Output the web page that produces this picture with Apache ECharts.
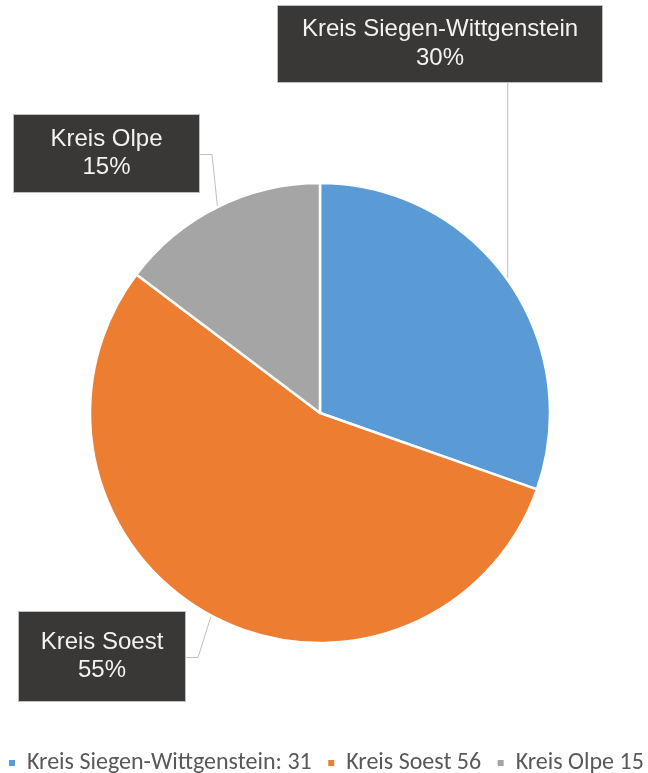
<!DOCTYPE html>
<html><head><meta charset="utf-8">
<script src="https://cdn.jsdelivr.net/npm/echarts@6/dist/echarts.min.js"></script>
<style>html,body{margin:0;padding:0;background:#fff}#c{width:648px;height:773px}</style>
</head><body><div id="c"></div>
<script>
const categories = ['Kreis Siegen-Wittgenstein', 'Kreis Soest', 'Kreis Olpe'];
const values = [31, 56, 15];
const percentLabels = ['30%', '55%', '15%'];
const legendLabels = ['Kreis Siegen-Wittgenstein: 31', 'Kreis Soest 56', 'Kreis Olpe 15'];
const colors = ['#5B9BD5', '#ED7D31', '#A5A5A5'];

// label box layout (pixel boxes for the callouts)
const boxes = [
  {cx: 440, cy: 44, w: 326, h: 78, line: 'down'},
  {cx: 102, cy: 656.5, w: 168, h: 91, line: 'right'},
  {cx: 106.5, cy: 153.5, w: 187, h: 79, line: 'right'}
];

const chart = echarts.init(document.getElementById('c'), null, {renderer: 'canvas'});
const data = categories.map((n, i) => ({
  name: n, value: values[i],
  itemStyle: {color: colors[i]},
  label: {width: boxes[i].w - 2, height: boxes[i].h - 2}
}));
chart.setOption({
  animation: false,
  legend: {
    left: 7, top: 751, padding: 0, width: 700,
    icon: 'rect', itemWidth: 8, itemHeight: 8, itemGap: 14.5,
    textStyle: {fontFamily: 'Carlito, "Noto Sans", sans-serif', fontSize: 24, color: '#595959', padding: [0,0,0,6]},
    formatter: name => legendLabels[categories.indexOf(name)],
    data: categories
  },
  series: [{
    type: 'pie',
    center: [320, 413],
    radius: 230,
    startAngle: 90,
    clockwise: true,
    data: data,
    itemStyle: {borderColor: '#fff', borderWidth: 2.5},
    label: {
      show: true,
      position: 'outside',
      formatter: p => p.name + '\n' + percentLabels[p.dataIndex],
      backgroundColor: '#3A3836',
      borderColor: '#BFBFBF',
      borderWidth: 1,
      color: '#F2F2F2',
      fontFamily: '"Liberation Sans", Arial, sans-serif',
      fontSize: 24,
      lineHeight: 28.5,
      align: 'center',
      verticalAlign: 'middle'
    },
    labelLine: {show: true, lineStyle: {color: '#BFBFBF', width: 1}},
    labelLayout: function (params) {
      const b = boxes[params.dataIndex];
      const p0 = params.labelLinePoints ? params.labelLinePoints[0] : null;
      const res = {x: b.cx, y: b.cy, align: 'center', verticalAlign: 'middle'};
      if (p0) {
        if (b.line === 'down') {
          res.labelLinePoints = [p0, [p0[0], b.cy + b.h / 2], [p0[0], b.cy + b.h / 2]];
        } else {
          const ex = b.cx + b.w / 2;
          res.labelLinePoints = [p0, [ex + 12, b.cy + 1], [ex, b.cy + 1]];
        }
      }
      return res;
    }
  }]
});
</script></body></html>
